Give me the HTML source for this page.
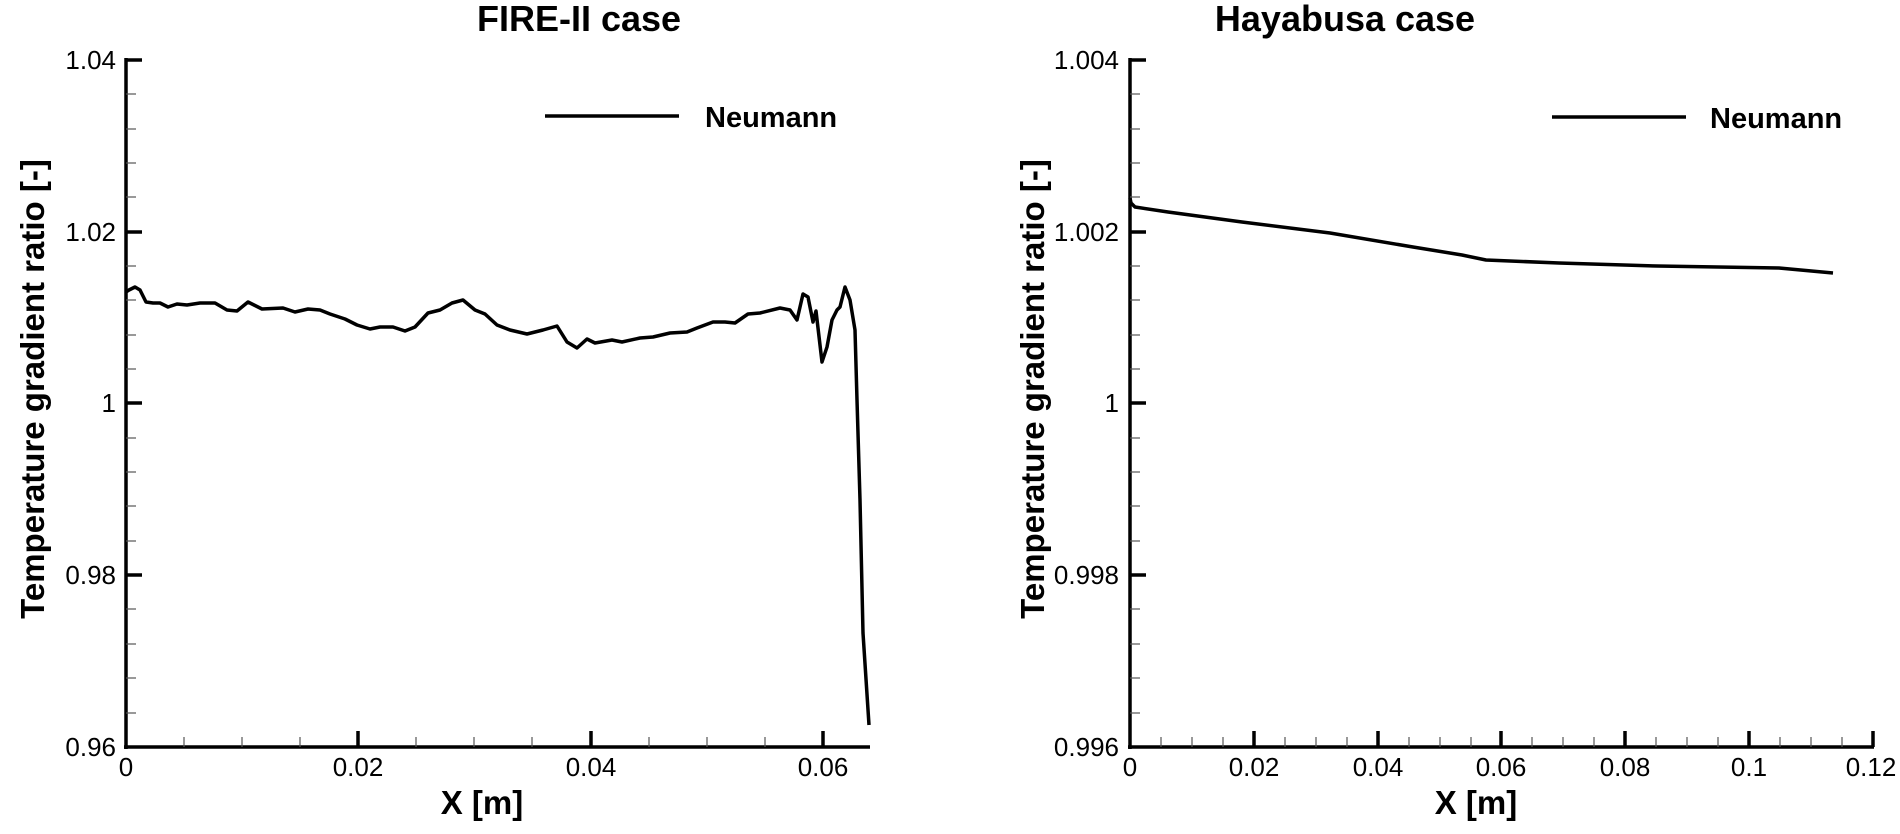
<!DOCTYPE html>
<html><head><meta charset="utf-8"><style>
html,body{margin:0;padding:0;background:#fff;}
svg{display:block;font-family:"Liberation Sans",Arial,sans-serif;}
</style></head><body>
<svg width="1900" height="834" viewBox="0 0 1900 834" xmlns="http://www.w3.org/2000/svg">
<!-- LEFT PLOT -->
<g>
<text x="579" y="31" font-size="36" font-weight="bold" text-anchor="middle">FIRE-II case</text>
<line x1="126" y1="58" x2="126" y2="749" stroke="#000" stroke-width="3.5"/>
<line x1="124" y1="747" x2="870" y2="747" stroke="#000" stroke-width="3.5"/>
<g stroke="#000" stroke-width="3.5">
<line x1="126" y1="60" x2="142" y2="60"/><line x1="126" y1="232" x2="142" y2="232"/><line x1="126" y1="403" x2="142" y2="403"/><line x1="126" y1="575" x2="142" y2="575"/>
<line x1="358" y1="747" x2="358" y2="731"/><line x1="591" y1="747" x2="591" y2="731"/><line x1="823" y1="747" x2="823" y2="731"/>
</g>
<g stroke="#555" stroke-width="1.2">
<line x1="126" y1="94" x2="136" y2="94"/><line x1="126" y1="129" x2="136" y2="129"/><line x1="126" y1="163" x2="136" y2="163"/><line x1="126" y1="197" x2="136" y2="197"/>
<line x1="126" y1="266" x2="136" y2="266"/><line x1="126" y1="300" x2="136" y2="300"/><line x1="126" y1="335" x2="136" y2="335"/><line x1="126" y1="369" x2="136" y2="369"/>
<line x1="126" y1="438" x2="136" y2="438"/><line x1="126" y1="472" x2="136" y2="472"/><line x1="126" y1="506" x2="136" y2="506"/><line x1="126" y1="541" x2="136" y2="541"/>
<line x1="126" y1="609" x2="136" y2="609"/><line x1="126" y1="644" x2="136" y2="644"/><line x1="126" y1="678" x2="136" y2="678"/><line x1="126" y1="713" x2="136" y2="713"/>
<line x1="184" y1="747" x2="184" y2="737"/><line x1="242" y1="747" x2="242" y2="737"/><line x1="300" y1="747" x2="300" y2="737"/>
<line x1="416" y1="747" x2="416" y2="737"/><line x1="474" y1="747" x2="474" y2="737"/><line x1="532" y1="747" x2="532" y2="737"/>
<line x1="649" y1="747" x2="649" y2="737"/><line x1="707" y1="747" x2="707" y2="737"/><line x1="765" y1="747" x2="765" y2="737"/>
</g>
<g font-size="26" text-anchor="end">
<text x="116" y="69">1.04</text><text x="116" y="241">1.02</text><text x="116" y="412">1</text><text x="116" y="584">0.98</text><text x="116" y="756">0.96</text>
</g>
<g font-size="26" text-anchor="middle">
<text x="126" y="776">0</text><text x="358" y="776">0.02</text><text x="591" y="776">0.04</text><text x="823" y="776">0.06</text>
</g>
<text x="482" y="814" font-size="33" font-weight="bold" text-anchor="middle">X [m]</text>
<text transform="translate(44,389) rotate(-90)" font-size="33" font-weight="bold" text-anchor="middle">Temperature gradient ratio [-]</text>
<line x1="545" y1="116" x2="679" y2="116" stroke="#000" stroke-width="3.5"/>
<text x="705" y="127" font-size="29" font-weight="bold">Neumann</text>
<polyline fill="none" stroke="#000" stroke-width="3.5" stroke-linejoin="round" points="126,292 129,290 135,287 140,290 146,302 153,303 160,303 168,307 177,304 187,305 200,303 215,303 227,310 237,311 248,302 262,309 283,308 295,312 308,309 320,310 330,314 345,319 357,325 370,329 380,327 393,327 405,331 415,327 428,313 440,310 452,303 463,300 475,310 485,314 497,325 510,330 527,334 543,330 557,326 567,342 577,348 587,339 595,343 612,340 622,342 640,338 653,337 670,333 687,332 697,328 713,322 725,322 735,323 748,314 760,313 780,308 790,310 797,320 803,294 808,297 813,322 816,311 822,362 827,347 832,320 837,310 840,307 845,287 850,300 855,330 857,400 860,500 863,633 869,725"/>
</g>
<!-- RIGHT PLOT -->
<g>
<text x="1345" y="31" font-size="36" font-weight="bold" text-anchor="middle">Hayabusa case</text>
<line x1="1130" y1="58" x2="1130" y2="749" stroke="#000" stroke-width="3.5"/>
<line x1="1128" y1="747" x2="1874" y2="747" stroke="#000" stroke-width="3.5"/>
<g stroke="#000" stroke-width="3.5">
<line x1="1130" y1="60" x2="1146" y2="60"/><line x1="1130" y1="232" x2="1146" y2="232"/><line x1="1130" y1="403" x2="1146" y2="403"/><line x1="1130" y1="575" x2="1146" y2="575"/>
<line x1="1254" y1="747" x2="1254" y2="731"/><line x1="1378" y1="747" x2="1378" y2="731"/><line x1="1501" y1="747" x2="1501" y2="731"/><line x1="1625" y1="747" x2="1625" y2="731"/><line x1="1749" y1="747" x2="1749" y2="731"/><line x1="1873" y1="747" x2="1873" y2="731"/>
</g>
<g stroke="#555" stroke-width="1.2">
<line x1="1130" y1="94" x2="1140" y2="94"/><line x1="1130" y1="129" x2="1140" y2="129"/><line x1="1130" y1="163" x2="1140" y2="163"/><line x1="1130" y1="197" x2="1140" y2="197"/>
<line x1="1130" y1="266" x2="1140" y2="266"/><line x1="1130" y1="300" x2="1140" y2="300"/><line x1="1130" y1="335" x2="1140" y2="335"/><line x1="1130" y1="369" x2="1140" y2="369"/>
<line x1="1130" y1="438" x2="1140" y2="438"/><line x1="1130" y1="472" x2="1140" y2="472"/><line x1="1130" y1="506" x2="1140" y2="506"/><line x1="1130" y1="541" x2="1140" y2="541"/>
<line x1="1130" y1="609" x2="1140" y2="609"/><line x1="1130" y1="644" x2="1140" y2="644"/><line x1="1130" y1="678" x2="1140" y2="678"/><line x1="1130" y1="713" x2="1140" y2="713"/>
<line x1="1161" y1="747" x2="1161" y2="737"/><line x1="1192" y1="747" x2="1192" y2="737"/><line x1="1223" y1="747" x2="1223" y2="737"/>
<line x1="1285" y1="747" x2="1285" y2="737"/><line x1="1316" y1="747" x2="1316" y2="737"/><line x1="1347" y1="747" x2="1347" y2="737"/>
<line x1="1409" y1="747" x2="1409" y2="737"/><line x1="1440" y1="747" x2="1440" y2="737"/><line x1="1471" y1="747" x2="1471" y2="737"/>
<line x1="1532" y1="747" x2="1532" y2="737"/><line x1="1563" y1="747" x2="1563" y2="737"/><line x1="1594" y1="747" x2="1594" y2="737"/>
<line x1="1656" y1="747" x2="1656" y2="737"/><line x1="1687" y1="747" x2="1687" y2="737"/><line x1="1718" y1="747" x2="1718" y2="737"/>
<line x1="1780" y1="747" x2="1780" y2="737"/><line x1="1811" y1="747" x2="1811" y2="737"/><line x1="1842" y1="747" x2="1842" y2="737"/>
</g>
<g font-size="26" text-anchor="end">
<text x="1119" y="69">1.004</text><text x="1119" y="241">1.002</text><text x="1119" y="412">1</text><text x="1119" y="584">0.998</text><text x="1119" y="756">0.996</text>
</g>
<g font-size="26" text-anchor="middle">
<text x="1130" y="776">0</text><text x="1254" y="776">0.02</text><text x="1378" y="776">0.04</text><text x="1501" y="776">0.06</text><text x="1625" y="776">0.08</text><text x="1749" y="776">0.1</text><text x="1871" y="776">0.12</text>
</g>
<text x="1476" y="814" font-size="33" font-weight="bold" text-anchor="middle">X [m]</text>
<text transform="translate(1044,389) rotate(-90)" font-size="33" font-weight="bold" text-anchor="middle">Temperature gradient ratio [-]</text>
<line x1="1552" y1="117" x2="1686" y2="117" stroke="#000" stroke-width="3.5"/>
<text x="1710" y="128" font-size="29" font-weight="bold">Neumann</text>
<polyline fill="none" stroke="#000" stroke-width="3.5" stroke-linejoin="round" points="1130,198 1131,203 1135,207 1168,212 1242,222 1330,233 1413,247 1462,255 1486,260 1559,263 1657,266 1779,268 1833,273"/>
</g>
</svg>
</body></html>
